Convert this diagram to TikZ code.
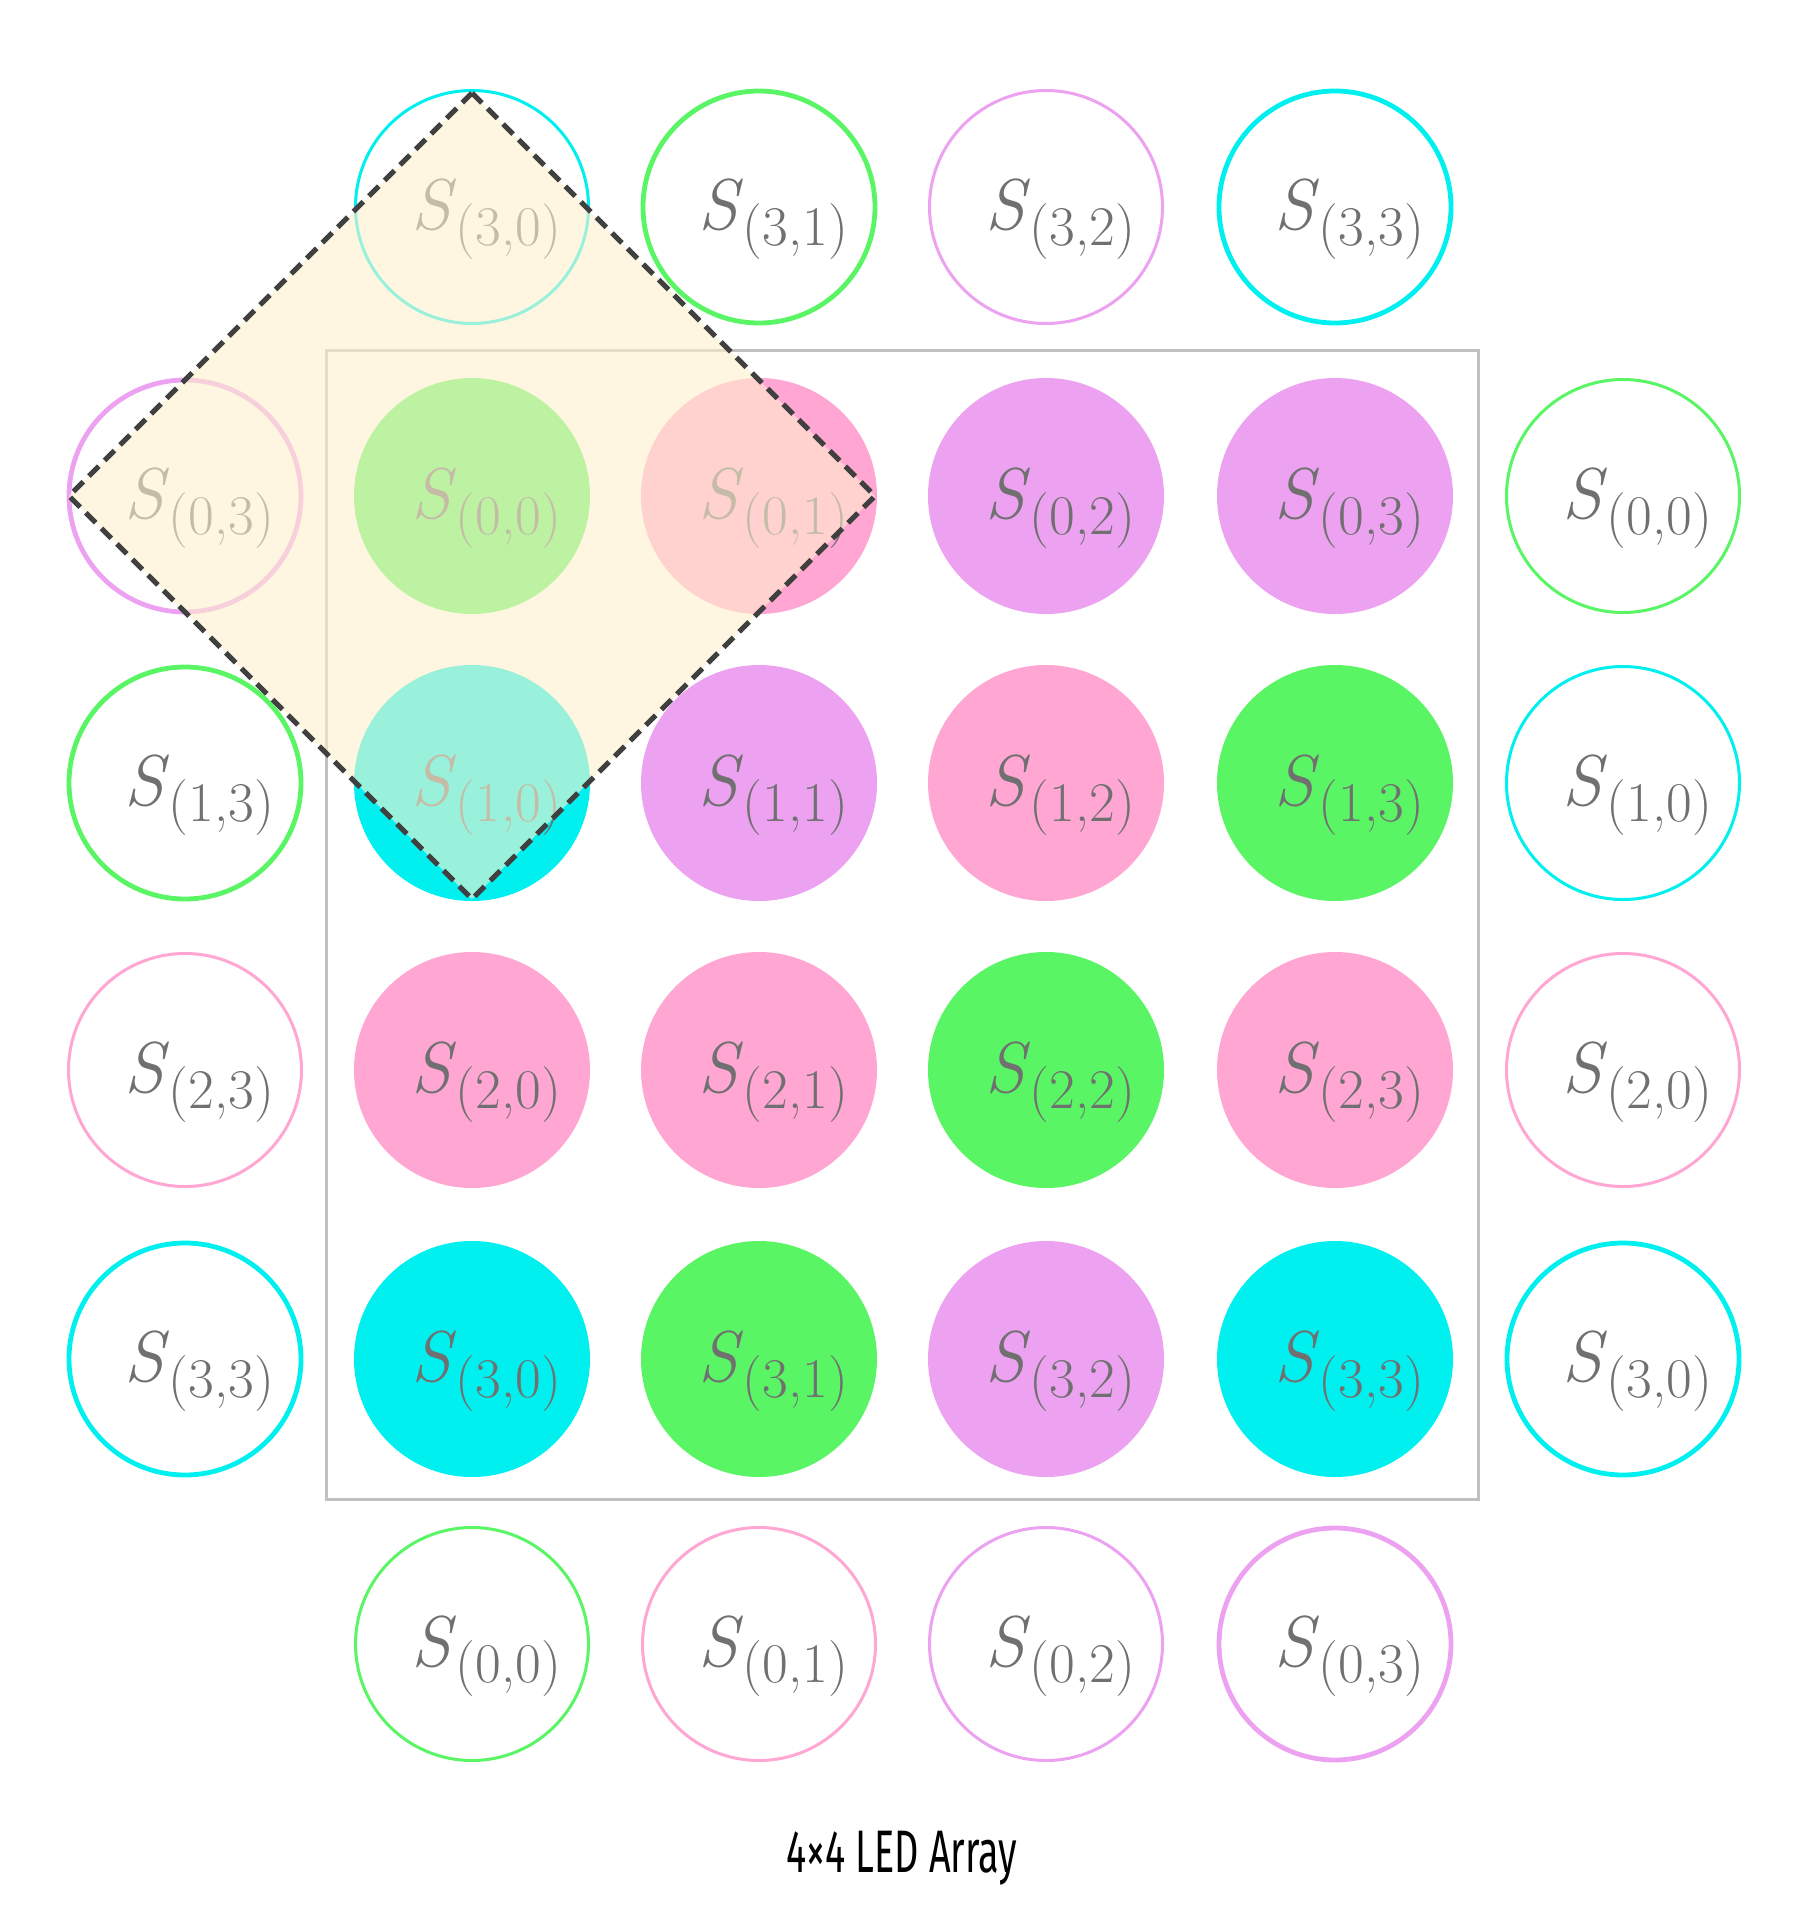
\documentclass[tikz,border=0pt]{standalone}
\usepackage{fontspec}
\newfontfamily\capfont{Fira Sans}
\definecolor{pinkc}{RGB}{255,166,210}
\definecolor{violetc}{RGB}{236,162,240}
\definecolor{greenc}{RGB}{90,245,101}
\definecolor{cyanc}{RGB}{0,240,240}
\definecolor{labelgray}{RGB}{112,112,112}
\definecolor{framegray}{RGB}{192,192,192}
\definecolor{creamc}{RGB}{255,240,205}
\definecolor{dashgray}{RGB}{64,64,64}
\newcommand\ledlbl[1]{\hspace{14pt}\raisebox{-11pt}[0pt][0pt]{\textit{S}\raisebox{-8pt}{\fontsize{28}{32}\selectfont(#1)}}}
\begin{document}
\begin{tikzpicture}[x=0.5pt,y=-0.5pt,
  led/.style={circle, minimum size=118pt, inner sep=0pt, text=labelgray, font=\fontsize{36}{42}\selectfont},
  ledon/.style={led, fill=#1, draw=none},
  offthin/.style={led, draw=#1, line width=1.5pt, minimum size=116.5pt},
  offthick/.style={led, draw=#1, line width=2.4pt, minimum size=116pt},
  framebox/.style={draw=framegray, line width=1.5pt},
  shade/.style={fill=creamc, fill opacity=0.6},
  diamondline/.style={draw=dashgray, line width=2.5pt, dash pattern=on 7pt off 4pt}]
\useasboundingbox (0,0) rectangle (1794,1907);
% frame
\draw[framebox] (326,350) rectangle (1478,1499);
% top row
\node[offthin=cyanc]    (t0) at (472,207)  {\ledlbl{3,0}};
\node[offthick=greenc]  (t1) at (759,207)  {\ledlbl{3,1}};
\node[offthin=violetc]  (t2) at (1046,207) {\ledlbl{3,2}};
\node[offthick=cyanc]   (t3) at (1335,207) {\ledlbl{3,3}};
% left column
\node[offthick=violetc] (l0) at (185,496)  {\ledlbl{0,3}};
\node[offthick=greenc]  (l1) at (185,783)  {\ledlbl{1,3}};
\node[offthin=pinkc]    (l2) at (185,1070) {\ledlbl{2,3}};
\node[offthick=cyanc]   (l3) at (185,1359) {\ledlbl{3,3}};
% right column
\node[offthin=greenc]   (r0) at (1623,496)  {\ledlbl{0,0}};
\node[offthin=cyanc]    (r1) at (1623,783)  {\ledlbl{1,0}};
\node[offthin=pinkc]    (r2) at (1623,1070) {\ledlbl{2,0}};
\node[offthick=cyanc]   (r3) at (1623,1359) {\ledlbl{3,0}};
% bottom row
\node[offthin=greenc]   (b0) at (472,1644)  {\ledlbl{0,0}};
\node[offthin=pinkc]    (b1) at (759,1644)  {\ledlbl{0,1}};
\node[offthin=violetc]  (b2) at (1046,1644) {\ledlbl{0,2}};
\node[offthick=violetc] (b3) at (1335,1644) {\ledlbl{0,3}};
% array
\node[ledon=greenc]  (a00) at (472,496)  {\ledlbl{0,0}};
\node[ledon=pinkc]   (a01) at (759,496)  {\ledlbl{0,1}};
\node[ledon=violetc] (a02) at (1046,496) {\ledlbl{0,2}};
\node[ledon=violetc] (a03) at (1335,496) {\ledlbl{0,3}};
\node[ledon=cyanc]   (a10) at (472,783)  {\ledlbl{1,0}};
\node[ledon=violetc] (a11) at (759,783)  {\ledlbl{1,1}};
\node[ledon=pinkc]   (a12) at (1046,783) {\ledlbl{1,2}};
\node[ledon=greenc]  (a13) at (1335,783) {\ledlbl{1,3}};
\node[ledon=pinkc]   (a20) at (472,1070)  {\ledlbl{2,0}};
\node[ledon=pinkc]   (a21) at (759,1070)  {\ledlbl{2,1}};
\node[ledon=greenc]  (a22) at (1046,1070) {\ledlbl{2,2}};
\node[ledon=pinkc]   (a23) at (1335,1070) {\ledlbl{2,3}};
\node[ledon=cyanc]   (a30) at (472,1359)  {\ledlbl{3,0}};
\node[ledon=greenc]  (a31) at (759,1359)  {\ledlbl{3,1}};
\node[ledon=violetc] (a32) at (1046,1359) {\ledlbl{3,2}};
\node[ledon=cyanc]   (a33) at (1335,1359) {\ledlbl{3,3}};
% diamond window
\coordinate (dT) at (472,93);
\coordinate (dR) at (875,496);
\coordinate (dB) at (472,899);
\coordinate (dL) at (69,496);
\fill[shade] (dT) -- (dR) -- (dB) -- (dL) -- cycle;
\draw[diamondline] (dT) -- (dR) -- (dB) -- (dL) -- cycle;
% caption
\node (cap) at (902,1858) {\scalebox{0.63}[1]{\capfont\fontsize{30}{36}\selectfont 4×4 LED Array}};
\end{tikzpicture}
\end{document}
